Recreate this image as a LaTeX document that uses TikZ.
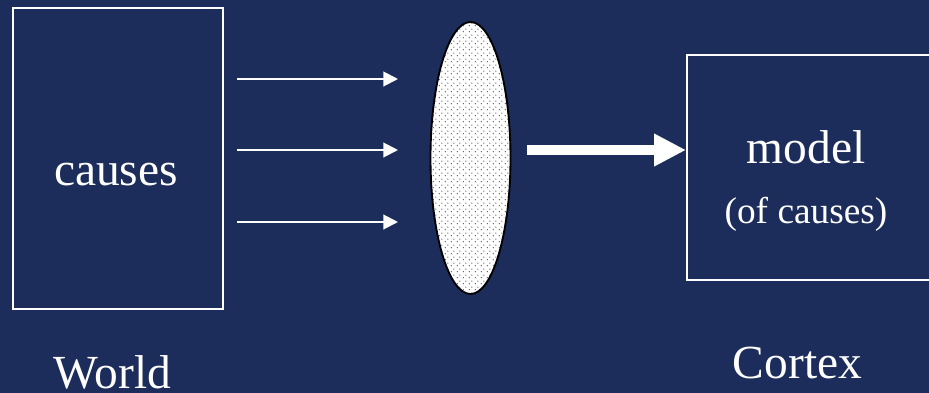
\documentclass[tikz,border=0pt]{standalone}
\usepackage{fontspec}
\setmainfont{Liberation Serif}
\usetikzlibrary{arrows.meta,patterns,shapes.geometric}
\definecolor{bg}{RGB}{28,45,92}
\pgfdeclarepatternformonly{mydots}{\pgfqpoint{0pt}{0pt}}{\pgfqpoint{4.5pt}{4.5pt}}{\pgfqpoint{4.5pt}{4.5pt}}{%
  \pgfpathcircle{\pgfqpoint{1.125pt}{1.125pt}}{0.6pt}%
  \pgfpathcircle{\pgfqpoint{3.375pt}{3.375pt}}{0.6pt}%
  \pgfusepath{fill}}
\begin{document}
\begin{tikzpicture}[x=0.75pt,y=-0.75pt,
  box/.style={draw=white,line width=1.5pt},
  big/.style={text=white,font=\fontsize{35.6}{40}\selectfont,inner sep=0pt},
  small/.style={text=white,font=\fontsize{28}{32}\selectfont,inner sep=0pt},
  thin/.style={draw=white,line width=1.5pt,-{Triangle[length=11pt,width=11pt]}},
  thick/.style={draw=white,line width=7.5pt,-{Triangle[length=24pt,width=23pt]}}]
\fill[bg] (0,0) rectangle (929,393);
\useasboundingbox (0,0) rectangle (929,393);
\begin{scope}
\clip (0,0) rectangle (929,393);
\node[box,minimum width=157.5pt,minimum height=225.75pt,anchor=north west,inner sep=0pt] (world) at (12,7) {};
\node[box,minimum width=185pt,minimum height=168.75pt,anchor=north west,inner sep=0pt] (cortex) at (686,54) {};
\end{scope}
\node[big,anchor=base] (causes) at (116,185) {causes};
\node[big,anchor=base] (model) at (806,163) {model};
\node[small,anchor=base] (of) at (806,223) {(of causes)};
\node[big,anchor=base] (wl) at (112.5,388) {World};
\node[big,anchor=base] (cl) at (797.5,378) {Cortex};
\node[ellipse,draw=black,line width=1.4pt,preaction={fill=white},pattern=mydots,pattern color=gray!75!black,minimum width=60pt,minimum height=204pt,inner sep=0pt] (lens) at (470.5,158) {};
\coordinate (a1s) at (237,79); \coordinate (a1e) at (398,79);
\coordinate (a2s) at (237,150); \coordinate (a2e) at (398,150);
\coordinate (a3s) at (237,222); \coordinate (a3e) at (398,222);
\draw[thin] (a1s) -- (a1e);
\draw[thin] (a2s) -- (a2e);
\draw[thin] (a3s) -- (a3e);
\coordinate (ts) at (527,150);
\draw[thick] (ts) -- (cortex.west |- ts);
\end{tikzpicture}
\end{document}
